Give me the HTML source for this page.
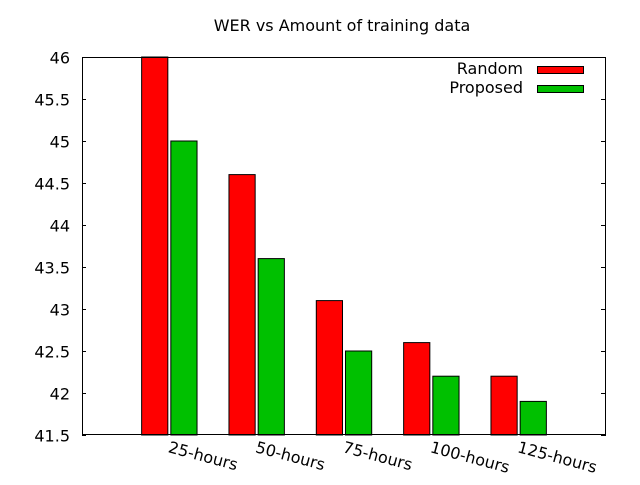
<!DOCTYPE html>
<html><head><meta charset="utf-8"><style>
body{margin:0;background:#fff}
svg text{font-family:"DejaVu Sans","Liberation Sans",sans-serif;font-size:16px;fill:#000}
</style></head><body>
<svg width="640" height="480" xmlns="http://www.w3.org/2000/svg">
<text x="342" y="31" text-anchor="middle">WER vs Amount of training data</text>
<g id="ax"></g><g id="bars"></g>
<rect x="82.5" y="57.5" width="523" height="377" fill="none" stroke="#000" stroke-width="1"/>
<g>
<text x="523" y="74" text-anchor="end">Random</text>
<rect x="537.5" y="66.5" width="46" height="7" fill="#ff0000" stroke="#000"/>
<text x="523" y="93" text-anchor="end">Proposed</text>
<rect x="537.5" y="85.5" width="46" height="7" fill="#00c000" stroke="#000"/>
</g>
</svg>
<script>
const categories=["25-hours","50-hours","75-hours","100-hours","125-hours"];
const random=[46,44.6,43.1,42.6,42.2];
const proposed=[45,43.6,42.5,42.2,41.9];
const yTicks=[41.5,42,42.5,43,43.5,44,44.5,45,45.5,46];
const NS="http://www.w3.org/2000/svg";
const L=82,R=606,T=57,B=435,yMin=41.5,yMax=46,xMin=0,xMax=6;
const ys=v=>B-(v-yMin)/(yMax-yMin)*(B-T);
const xs=v=>L+(v-xMin)/(xMax-xMin)*(R-L);
function mk(t,a,p){const e=document.createElementNS(NS,t);for(const k in a)e.setAttribute(k,a[k]);p.appendChild(e);return e;}
const ax=document.getElementById('ax'),bg=document.getElementById('bars');
yTicks.forEach(v=>{
 const y=Math.round(ys(v))+0.5;
 const l=mk('line',{x1:L,x2:L+4,y1:y,y2:y,stroke:'#000'},ax);
 
 
 const l2=mk('line',{x1:R-5,x2:R,y1:y,y2:y,stroke:'#000'},ax);
 
 
 const t=mk('text',{x:70,y:y+6,'text-anchor':'end'},ax);t.textContent=String(v);
 
 
});
const bw=(R-L)/6*0.3;
categories.forEach((c,i)=>{
 const cx=xs(i+1);
 const r=mk('rect',{x:cx-bw-1.5,y:ys(random[i]),width:bw,height:B-ys(random[i]),fill:'#ff0000',stroke:'#000'},bg);
 
 
 const g=mk('rect',{x:cx+1.5,y:ys(proposed[i]),width:bw,height:B-ys(proposed[i]),fill:'#00c000',stroke:'#000'},bg);
 
 
 const t=mk('text',{x:cx-2,y:452,transform:`rotate(15 ${cx-2} 452)`},ax);t.textContent=c;
 
 
});
</script>
</body></html>
